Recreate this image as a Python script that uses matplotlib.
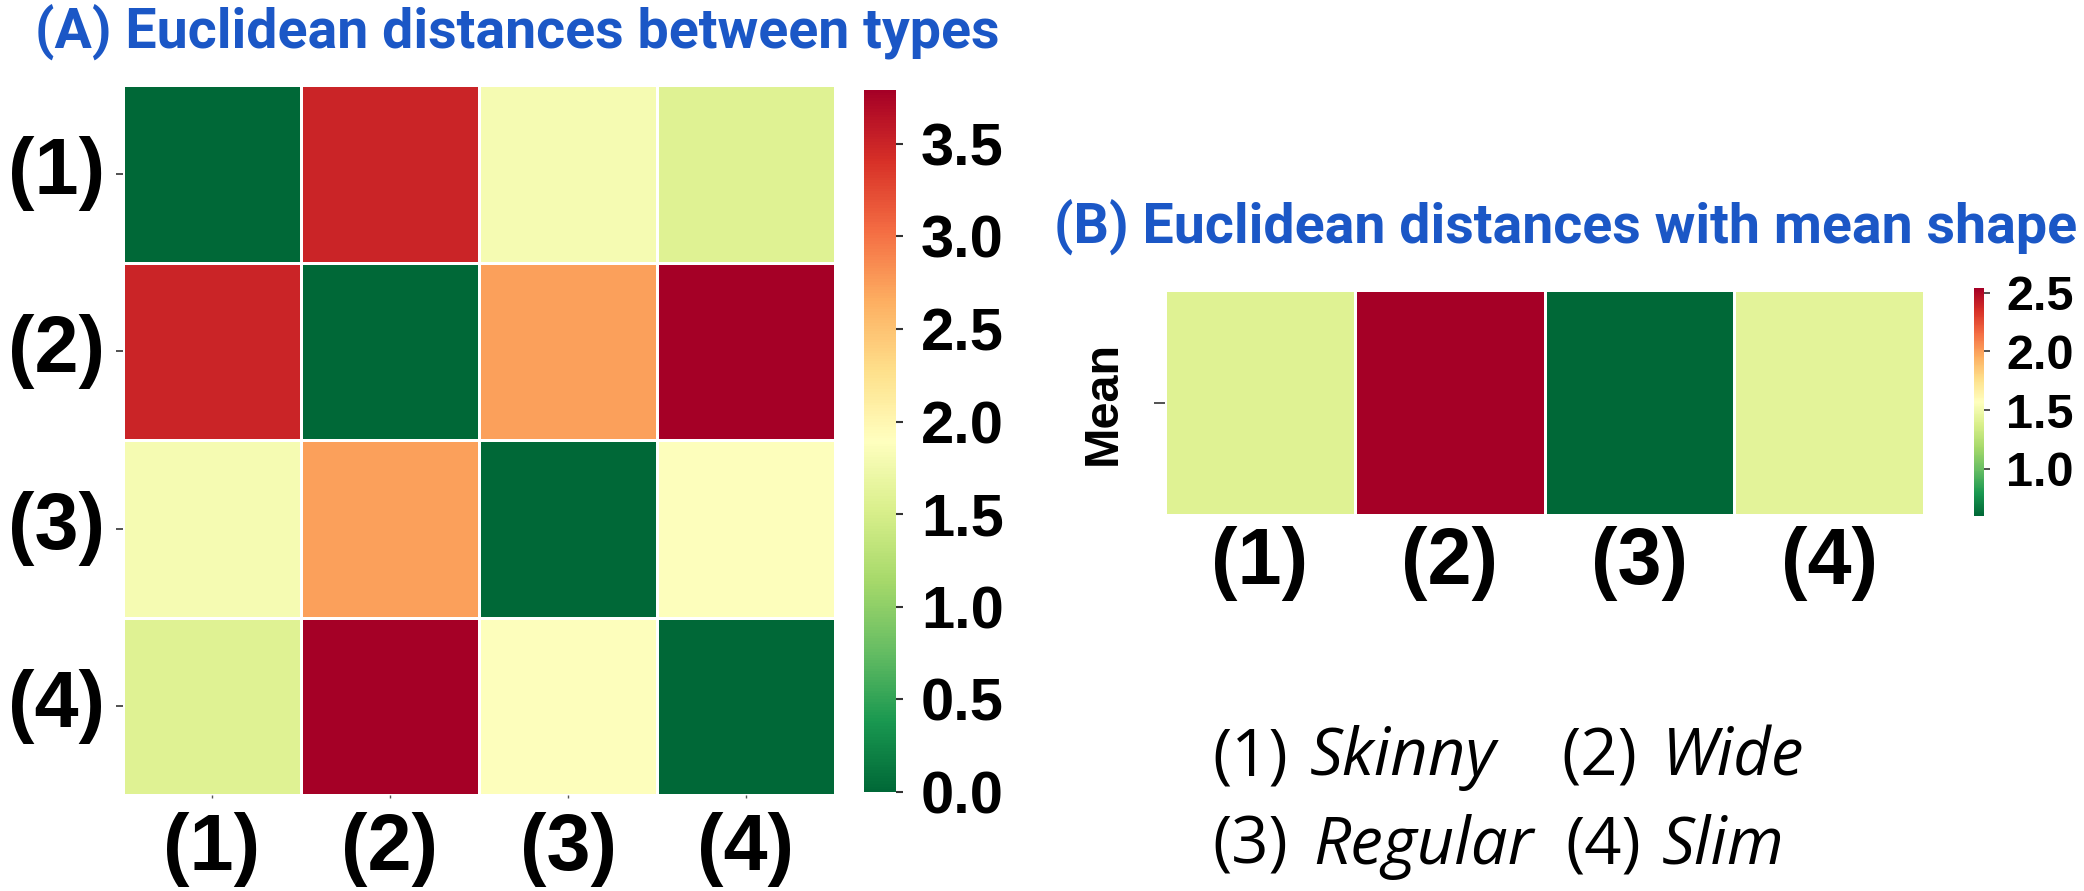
import numpy as np
import pandas as pd
import matplotlib
matplotlib.use("Agg")
import matplotlib.pyplot as plt
import seaborn as sns

# data
types = ["(1)", "(2)", "(3)", "(4)"]
type_names = ["Skinny", "Wide", "Regular", "Slim"]

dist_types = [
    [0.00, 3.50, 1.80, 1.58],
    [3.50, 0.00, 2.73, 3.79],
    [1.80, 2.73, 0.00, 1.88],
    [1.58, 3.79, 1.88, 0.00],
]
dist_mean = [1.41, 2.54, 0.60, 1.43]

W, H = 2084, 891
BLUE = "#1b57c6"
BOLD = ["Liberation Sans", "DejaVu Sans"]
TITLE_FONT = ["Liberation Sans Narrow", "Roboto", "DejaVu Sans"]
KEY_FONT = ["Open Sans", "DejaVu Sans"]


def box(x0, y0, x1, y1):
    # pixel box (top-left origin) -> figure fraction rect
    return [x0 / W, 1 - y1 / H, (x1 - x0) / W, (y1 - y0) / H]


fig = plt.figure(figsize=(W / 100, H / 100), dpi=100)

# (A) pairwise distances
ax_a = fig.add_axes(box(123, 85, 835, 795))
cax_a = fig.add_axes(box(864, 90, 896, 792))
df_a = pd.DataFrame(dist_types, index=types, columns=types)
sns.heatmap(df_a, ax=ax_a, cbar_ax=cax_a, cmap="RdYlGn_r",
            linewidths=2, linecolor="white")
ax_a.set_yticklabels(types, rotation=0, fontsize=57, fontweight="bold", family=BOLD)
ax_a.set_xticklabels(types, rotation=0, fontsize=57, fontweight="bold", family=BOLD)
ax_a.tick_params(axis="y", length=5, width=1.2, pad=8, color="#333333")
ax_a.tick_params(axis="x", length=2, width=1, pad=10, color="#555555")
cax_a.set_yticks([0.0, 0.5, 1.0, 1.5, 2.0, 2.5, 3.0, 3.5])
cax_a.tick_params(length=5, width=1.5, pad=13, color="#333333")
for t in cax_a.get_yticklabels():
    t.set_fontsize(43)
    t.set_fontweight("bold")
    t.set_family(BOLD)
ax_a.set_xlabel("")
ax_a.set_ylabel("")

# (B) distances to the mean shape
ax_b = fig.add_axes(box(1165, 290, 1924, 515))
cax_b = fig.add_axes(box(1974, 288, 1984, 516))
df_b = pd.DataFrame([dist_mean], index=["Mean"], columns=types)
sns.heatmap(df_b, ax=ax_b, cbar_ax=cax_b, cmap="RdYlGn_r",
            linewidths=2, linecolor="white")
ax_b.set_xticklabels(types, rotation=0, fontsize=57, fontweight="bold", family=BOLD)
ax_b.set_yticklabels(["Mean"], rotation=90, va="center", fontsize=35,
                     fontweight="bold", family=BOLD)
ax_b.tick_params(axis="y", length=8, width=1.2, pad=20, color="#333333")
ax_b.tick_params(axis="x", length=0, pad=8)
cax_b.set_yticks([1.0, 1.5, 2.0, 2.5])
cax_b.tick_params(length=4, width=1.2, pad=12, color="#333333")
for t in cax_b.get_yticklabels():
    t.set_fontsize(35)
    t.set_fontweight("bold")
    t.set_family(BOLD)

# titles
fig.text(517 / W, 1 - 32 / H, "(A) Euclidean distances between types",
         ha="center", va="center", color=BLUE, fontsize=40,
         fontweight="bold", family=TITLE_FONT)
fig.text(1566 / W, 1 - 227 / H, "(B) Euclidean distances with mean shape",
         ha="center", va="center", color=BLUE, fontsize=40,
         fontweight="bold", family=TITLE_FONT)

# key for the type numbers
key_pos = [(1212, 1310, 775), (1561, 1662, 775), (1212, 1313, 864), (1565, 1662, 864)]
for lab, name, (xn, xw, yb) in zip(types, type_names, key_pos):
    fig.text(xn / W, 1 - yb / H, lab, ha="left", va="baseline",
             fontsize=47, family=KEY_FONT)
    fig.text(xw / W, 1 - yb / H, name, ha="left", va="baseline",
             fontsize=47, style="italic", family=KEY_FONT)

fig.savefig("out.png", dpi=100)
